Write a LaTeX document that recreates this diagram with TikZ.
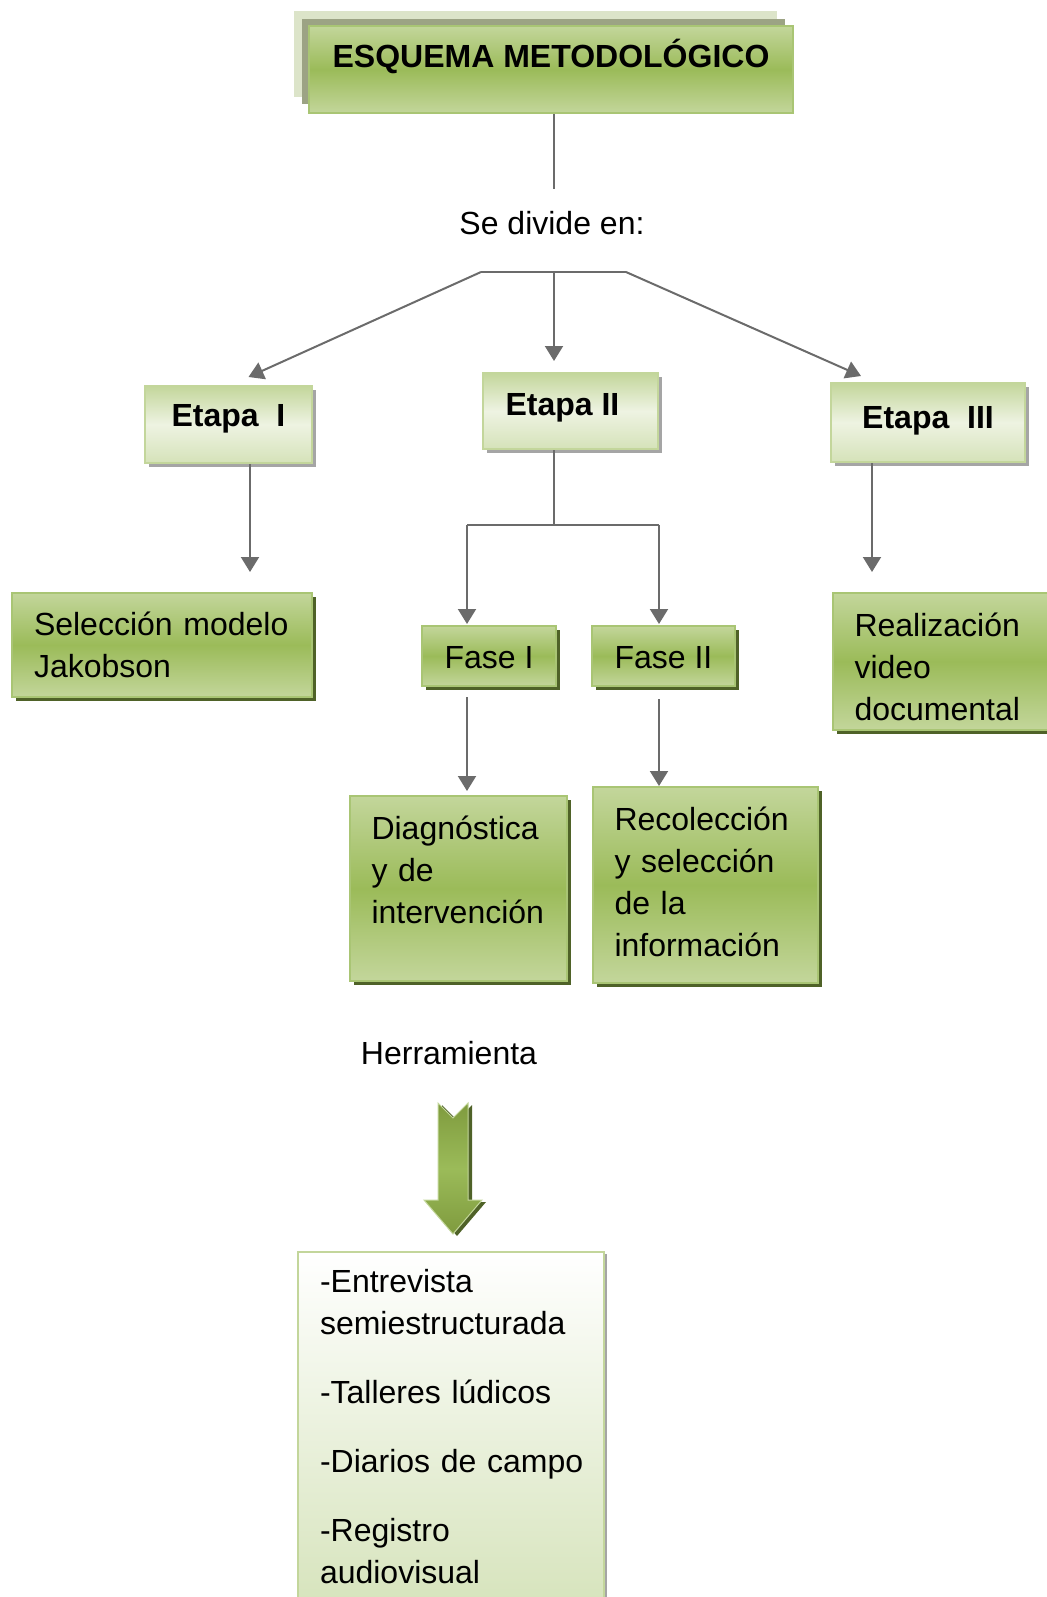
\documentclass[tikz,border=0pt]{standalone}
\usepackage{fontspec}
\setmainfont{Liberation Sans}
\usetikzlibrary{arrows.meta, shadows, calc}

\definecolor{verdeClaro}{HTML}{C3D69B}
\definecolor{verdeMedio}{HTML}{9BBB59}
\definecolor{verdePalido}{HTML}{EEF3E2}
\definecolor{bordeVerde}{HTML}{A9C574}
\definecolor{sombraVerde}{HTML}{4F6228}
\definecolor{sombraGris}{HTML}{A5A5A5}
\definecolor{gris}{HTML}{6B6B6B}
\definecolor{fondoAtras}{HTML}{DCE4C9}
\definecolor{fondoMedio}{HTML}{9CA384}
\definecolor{verdeFlecha}{HTML}{7F9B3E}
\definecolor{verdeHerr}{HTML}{D7E4BD}

\tikzset{
  texto/.style={font=\fontsize{16}{21}\selectfont},
  linea/.style={draw=gris, line width=1pt},
  flecha/.style={linea, -{Triangle[width=9pt,length=7.5pt]}},
  caja/.style={texto, rectangle, line width=1pt, inner xsep=10.5pt, inner ysep=0pt},
  cajaverde/.style={caja, draw=bordeVerde, top color=verdeClaro, bottom color=verdeClaro, middle color=verdeMedio,
      drop shadow={fill=sombraVerde, opacity=1, shadow xshift=2.2pt, shadow yshift=-2.2pt}},
  cajaetapa/.style={caja, draw=verdeClaro, top color=verdeClaro, bottom color=verdeClaro!70!white, middle color=verdePalido,
      font=\fontsize{16}{21}\selectfont\bfseries, text height=12pt, text depth=#1,
      drop shadow={fill=sombraGris, opacity=1, shadow xshift=2pt, shadow yshift=-2pt}},
  cajatexto/.style={cajaverde, align=left, text width=#1},
  cajafase/.style={cajaverde, text height=12pt, text depth=0pt},
}

\begin{document}
\begin{tikzpicture}[x=0.5pt, y=-0.5pt]
    \useasboundingbox (0,0) rectangle (1046,1597);

    % capas detras del titulo
    \fill[fondoAtras] (294,11) rectangle (777,97);
    \fill[fondoMedio] (302,19) rectangle (785,104);

    % titulo
    \node[caja, draw=bordeVerde, top color=verdeClaro, bottom color=verdeClaro, middle color=verdeMedio,
          font=\fontsize{16}{21}\selectfont\bfseries, text height=12pt, text depth=14pt,
          minimum width=242pt, minimum height=43.5pt] (title) at (551,69.5) {ESQUEMA METODOLÓGICO};
    \node[texto, inner ysep=11pt] (divide) at (552,223) {Se divide en:};

    % etapas
    \node[cajaetapa=10pt, minimum width=83.5pt, minimum height=38.5pt] (etapaA) at (228.5,424.5) {Etapa\ \ I};
    \node[cajaetapa=8pt, minimum width=87.5pt, minimum height=38pt] (etapaB) at (570.5,411) {Etapa II\hspace*{8pt}};
    \node[cajaetapa=6pt, minimum width=97pt, minimum height=39.5pt] (etapaC) at (928,422.5) {Etapa\ \ III};

    % resultados de cada etapa
    \node[cajatexto=128pt, minimum width=150pt, minimum height=52pt] (seleccion) at (162,645) {\mbox{Selección modelo}\\Jakobson};
    \node[cajatexto=92pt, minimum width=113.5pt, minimum height=68.5pt] (realiz) at (946.5,661.5) {\rule{0pt}{17pt}Realización\\video\\documental};

    % fases
    \node[cajafase, minimum width=67pt, minimum height=30pt] (fase1) at (489,656) {Fase I};
    \node[cajafase, minimum width=71.5pt, minimum height=30pt] (fase2) at (663.5,656) {Fase II};
    \node[cajatexto=87pt, minimum width=108.5pt, minimum height=92.5pt] (diag) at (458.5,888.5) {Diagnóstica\\y de\\intervención\\[-2pt]\mbox{}};
    \node[cajatexto=91pt, minimum width=112.5pt, minimum height=98pt] (recol) at (705.5,885) {Recolección\\y selección\\de la\\información\\[-17.5pt]\mbox{}};

    % herramientas
    \node[texto] (herr) at (449,1053) {Herramienta};
    \node[caja, draw=verdeClaro, top color=white, bottom color=verdeHerr, align=left, text width=131pt,
          minimum width=153pt, minimum height=175pt,
          drop shadow={fill=sombraGris, opacity=1, shadow xshift=1.5pt, shadow yshift=-1pt}] (tools) at (451,1427)
          {-Entrevista\\\mbox{semiestructurada}\\[13.5pt]\mbox{-Talleres lúdicos}\\[13.5pt]\mbox{-Diarios de campo}\\[13.5pt]-Registro\\audiovisual};

    % puntos de reparto
    \coordinate (split) at (554,272);
    \coordinate (splitL) at (481,272);
    \coordinate (splitR) at (626,272);
    \coordinate (fork) at (554,525);
    \coordinate (forkL) at (467,525);
    \coordinate (forkR) at (659,525);

    % conectores
    \draw[linea] (split |- title.south) -- (split |- divide.north);
    \draw[linea] (splitL) -- (splitR);
    \draw[flecha] (splitL) -- ($(etapaA.north)+(20,-8)$);
    \draw[flecha, shorten >=5.5pt] (split) -- (split |- etapaB.north);
    \draw[flecha] (splitR) -- ($(etapaC.north)+(-67,-6)$);

    \draw[flecha, shorten >=10pt] ($(etapaA.south)+(21.5,0)$) coordinate (a1) -- (a1 |- seleccion.north);
    \draw[flecha, shorten >=10pt] ($(etapaC.south)+(-56,0)$) coordinate (c1) -- (c1 |- realiz.north);

    \draw[linea] (fork |- etapaB.south) -- (fork);
    \draw[linea] (forkL) -- (forkR);
    \draw[flecha, shorten >=0.5pt] (forkL) -- (forkL |- fase1.north);
    \draw[flecha, shorten >=0.5pt] (forkR) -- (forkR |- fase2.north);
    \draw[flecha, shorten <=5pt, shorten >=2pt] (forkL |- fase1.south) -- (forkL |- diag.north);
    \draw[flecha, shorten <=6pt] (forkR |- fase2.south) -- (forkR |- recol.north);

    % flecha gruesa
    \fill[sombraVerde, shift={(4,2)}] (438,1103) -- (453,1118) -- (468,1103) -- (468,1200) -- (482,1200)
        -- (453,1234) -- (424,1200) -- (438,1200) -- cycle;
    \shade[top color=verdeFlecha, bottom color=verdeFlecha, middle color=verdeMedio, draw=verdeClaro, line width=0.5pt]
        (438,1103) -- (453,1118) -- (468,1103) -- (468,1200) -- (482,1200)
        -- (453,1234) -- (424,1200) -- (438,1200) -- cycle;
\end{tikzpicture}
\end{document}
